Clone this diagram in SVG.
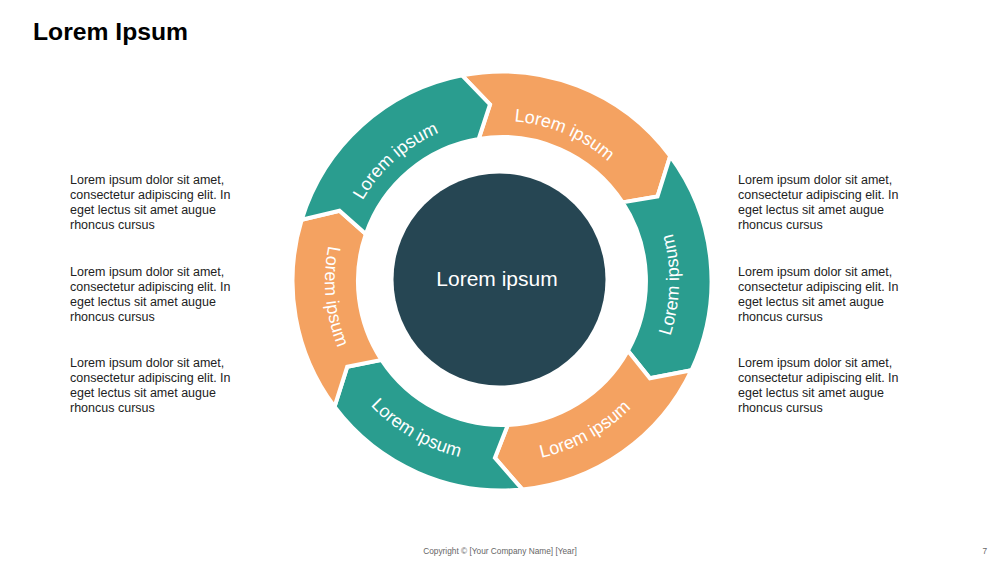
<svg xmlns="http://www.w3.org/2000/svg" width="1000" height="563" viewBox="0 0 1000 563">
<style>
.seg{stroke:#FFFFFF;stroke-width:4;stroke-linejoin:miter}
.teal{fill:#2A9D8F}
.orange{fill:#F4A261}
.lbl{font-family:"Liberation Sans",Arial,sans-serif;font-size:18px;fill:#FFFFFF;text-anchor:middle}
.body{font-family:"Liberation Sans",Arial,sans-serif;font-size:12.5px;fill:#222222}
</style>
<defs>
<path id="arc1" d="M455.2,128.0 A160,160 0 0 1 644.6,208.4"/>
<path id="arc2" d="M635.0,397.8 A177,177 0 0 0 640.1,170.3"/>
<path id="arc3" d="M467.5,458.7 A181,181 0 0 0 671.0,345.9"/>
<path id="arc4" d="M331.8,342.6 A181,181 0 0 0 533.1,459.3"/>
<path id="arc5" d="M356.5,180.2 A177,177 0 0 0 377.5,406.8"/>
<path id="arc6" d="M342.8,257.2 A161,161 0 0 1 497.8,120.0"/>
</defs>
<rect x="0" y="0" width="1000" height="563" fill="#FFFFFF"/>
<text x="33" y="40" font-family="Liberation Sans, Arial, sans-serif" font-size="24.7" font-weight="bold" fill="#000000">Lorem Ipsum</text>

<g id="seg-top">
<path class="seg orange" d="M462.0,75.4 A209.5,209.5 0 0 1 670.2,156.1 L657.5,196.5 L622.6,202.4 A144,144 0 0 0 478.7,138.9 L490.0,104.4 Z"/>
<text class="lbl"><textPath href="#arc1" startOffset="50%">Lorem ipsum</textPath></text>
</g>
<g id="seg-right">
<path class="seg teal" d="M670.2,156.1 A209.5,209.5 0 0 1 691.6,370.2 L649.9,378.2 L627.9,350.8 A144,144 0 0 0 622.6,202.4 L657.5,196.5 Z"/>
<text class="lbl"><textPath href="#arc2" startOffset="50%">Lorem ipsum</textPath></text>
</g>
<g id="seg-bottom-right">
<path class="seg orange" d="M691.6,370.2 A209.5,209.5 0 0 1 522.4,489.5 L494.9,457.9 L507.8,424.9 A144,144 0 0 0 627.9,350.8 L649.9,378.2 Z"/>
<text class="lbl"><textPath href="#arc3" startOffset="50%">Lorem ipsum</textPath></text>
</g>
<g id="seg-bottom">
<path class="seg teal" d="M522.4,489.5 A209.5,209.5 0 0 1 334.5,406.8 L347.2,366.8 L381.5,359.9 A144,144 0 0 0 507.8,424.9 L494.9,457.9 Z"/>
<text class="lbl"><textPath href="#arc4" startOffset="50%">Lorem ipsum</textPath></text>
</g>
<g id="seg-left">
<path class="seg orange" d="M334.5,406.8 A209.5,209.5 0 0 1 301.7,219.7 L339.5,210.7 L365.8,234.1 A144,144 0 0 0 381.5,359.9 L347.2,366.8 Z"/>
<text class="lbl"><textPath href="#arc5" startOffset="50%">Lorem ipsum</textPath></text>
</g>
<g id="seg-top-left">
<path class="seg teal" d="M301.7,219.7 A209.5,209.5 0 0 1 462.0,75.4 L490.0,104.4 L478.7,138.9 A144,144 0 0 0 365.8,234.1 L339.5,210.7 Z"/>
<text class="lbl"><textPath href="#arc6" startOffset="50%">Lorem ipsum</textPath></text>
</g>

<g id="center">
<circle cx="499.5" cy="279.5" r="106" fill="#264653"/>
<text x="497" y="278" font-family="Liberation Sans, Arial, sans-serif" font-size="21" fill="#FFFFFF" text-anchor="middle" dominant-baseline="central">Lorem ipsum</text>
</g>

<g id="text-left-1" class="body">
<text x="70" y="184">Lorem ipsum dolor sit amet,</text>
<text x="70" y="199">consectetur adipiscing elit. In</text>
<text x="70" y="214">eget lectus sit amet augue</text>
<text x="70" y="229">rhoncus cursus</text>
</g>
<g id="text-left-2" class="body">
<text x="70" y="276">Lorem ipsum dolor sit amet,</text>
<text x="70" y="291">consectetur adipiscing elit. In</text>
<text x="70" y="306">eget lectus sit amet augue</text>
<text x="70" y="321">rhoncus cursus</text>
</g>
<g id="text-left-3" class="body">
<text x="70" y="367">Lorem ipsum dolor sit amet,</text>
<text x="70" y="382">consectetur adipiscing elit. In</text>
<text x="70" y="397">eget lectus sit amet augue</text>
<text x="70" y="412">rhoncus cursus</text>
</g>
<g id="text-right-1" class="body">
<text x="738" y="184">Lorem ipsum dolor sit amet,</text>
<text x="738" y="199">consectetur adipiscing elit. In</text>
<text x="738" y="214">eget lectus sit amet augue</text>
<text x="738" y="229">rhoncus cursus</text>
</g>
<g id="text-right-2" class="body">
<text x="738" y="276">Lorem ipsum dolor sit amet,</text>
<text x="738" y="291">consectetur adipiscing elit. In</text>
<text x="738" y="306">eget lectus sit amet augue</text>
<text x="738" y="321">rhoncus cursus</text>
</g>
<g id="text-right-3" class="body">
<text x="738" y="367">Lorem ipsum dolor sit amet,</text>
<text x="738" y="382">consectetur adipiscing elit. In</text>
<text x="738" y="397">eget lectus sit amet augue</text>
<text x="738" y="412">rhoncus cursus</text>
</g>

<text x="500" y="554" font-family="Liberation Sans, Arial, sans-serif" font-size="8.3" fill="#666666" text-anchor="middle">Copyright © [Your Company Name] [Year]</text>
<text x="987" y="554" font-family="Liberation Sans, Arial, sans-serif" font-size="8.3" fill="#666666" text-anchor="end">7</text>
</svg>
